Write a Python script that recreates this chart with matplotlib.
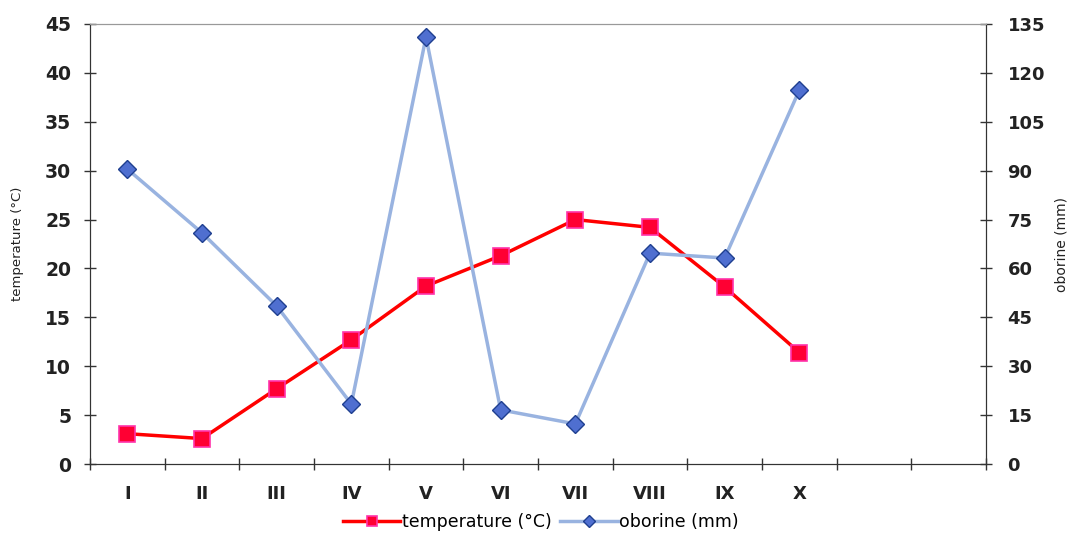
import matplotlib
matplotlib.use("Agg")
import matplotlib.pyplot as plt
import numpy as np

plt.rcParams['font.family'] = ['DejaVu Sans']

months = ["I", "II", "III", "IV", "V", "VI", "VII", "VIII", "IX", "X"]
n_slots = 12
temperature = [3.1, 2.6, 7.7, 12.7, 18.2, 21.3, 25.0, 24.2, 18.1, 11.4]
oborine = [90.5, 70.9, 48.5, 18.4, 131.0, 16.6, 12.3, 64.7, 63.2, 114.7]
left_ticks = [0, 5, 10, 15, 20, 25, 30, 35, 40, 45]
right_ticks = [0, 15, 30, 45, 60, 75, 90, 105, 120, 135]

fig = plt.figure(figsize=(10.7, 5.35), dpi=100)
ax = fig.add_axes([90/1070, 1-464/535, (986-90)/1070, (464-24)/535])
ax2 = ax.twinx()

x = np.arange(1, len(months) + 1)

lt, = ax.plot(x, temperature, color='#FF0000', lw=2.5, marker='s', markersize=11.5,
              markerfacecolor='#FF0033', markeredgecolor='#FF33AA', markeredgewidth=1.2,
              label='temperature (°C)', zorder=3)
lo, = ax2.plot(x, oborine, color='#99B3E0', lw=2.5, marker='D', markersize=9.5,
               markerfacecolor='#4F6FD0', markeredgecolor='#1F3F90', markeredgewidth=1.0,
               label='oborine (mm)', zorder=3)

ax.set_xlim(0.5, n_slots + 0.5)
ax.set_ylim(0, 45)
ax2.set_ylim(0, 135)
ax.set_yticks(left_ticks)
ax2.set_yticks(right_ticks)

ax.set_xticks(np.arange(0.5, n_slots + 1, 1))
ax.set_xticklabels([])
ax.set_xticks(x, minor=True)
ax.set_xticklabels(months, minor=True)

ax.tick_params(axis='x', which='major', direction='inout', length=9, width=1, color='#333333')
ax.tick_params(axis='x', which='minor', length=0, pad=15, labelsize=13)
for lab in ax.get_xticklabels(minor=True):
    lab.set_fontweight('bold')
    lab.set_color('#222222')

ax.tick_params(axis='y', direction='inout', length=9, width=1, color='#333333',
               labelsize=13.5, pad=9, labelcolor='#222222')
ax2.tick_params(axis='y', direction='inout', length=9, width=1, color='#333333',
                labelsize=13, pad=11, labelcolor='#222222')
for lab in ax.get_yticklabels() + ax2.get_yticklabels():
    lab.set_fontweight('bold')

for a in (ax, ax2):
    a.spines['top'].set_color('#999999')
    a.spines['left'].set_color('#333333')
    a.spines['right'].set_color('#333333')
    a.spines['bottom'].set_color('#333333')

ax.set_ylabel('temperature (°C)', fontsize=9.5, color='#222222')
ax.yaxis.set_label_coords((18 - 90) / 896, 0.5)
ax2.set_ylabel('oborine (mm)', fontsize=10, color='#222222', rotation=90)
ax2.yaxis.set_label_coords((1061 - 90) / 896, 0.5)
ax2.yaxis.label.set_va('center')
ax.yaxis.label.set_va('center')

fig.legend(handles=[lt, lo], loc='center', bbox_to_anchor=(541/1070, 1-522/535),
           ncol=2, frameon=False, fontsize=12.5, handlelength=3.3, columnspacing=0.5,
           handletextpad=0.1, markerscale=0.65)

fig.savefig('out.png', dpi=100)
